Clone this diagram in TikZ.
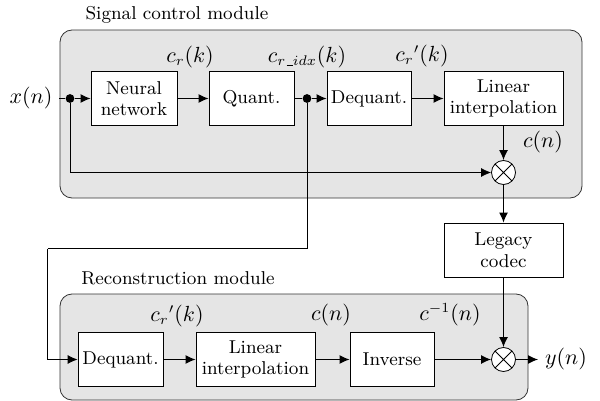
\documentclass[tikz,border=0pt]{standalone}
\usetikzlibrary{positioning}
\usetikzlibrary{arrows.meta}
\tikzset{x=0.5pt, y=-0.5pt,
font=\fontsize{9.3}{10.8}\selectfont,
module/.style={ % grey panel of a module
draw=black!80,
fill=gray!20,
rounded corners=6pt},
block/.style={ % a processing box
draw,
fill=white,
minimum height=27pt,
inner sep=1pt,
align=center},
mixer/.style={ % multiplier
circle,
draw,
fill=white,
minimum size=12pt,
inner sep=0pt,
path picture={\draw (path picture bounding box.north west) -- (path picture bounding box.south east)
(path picture bounding box.north east) -- (path picture bounding box.south west);}},
junction/.style={circle, fill, inner sep=0pt, minimum size=4.4pt},
lab/.style={font=\fontsize{10.6}{12}\selectfont},
tip/.style={-{Latex[length=5pt,width=4.5pt]}},
every edge/.style={draw, tip, semithick},
semithick}

\begin{document}
\begin{tikzpicture}
\useasboundingbox (0,0) rectangle (600,401);
% modules
\draw[module] (60,30) rectangle (582,198);
\draw[module] (60,294) rectangle (528,400);
\node (sigtitle) at (177,15) {Signal control module};
\node (rectitle) at (178,278) {Reconstruction module};

% signal control module
\node[lab] (xn) at (31,98.5) {$x(n)$};
\node[junction] (j1) at (70,98.5) {};
\node[block, minimum width=43pt] (nn) at (134,98.5) {Neural\\network};
\node[block, minimum width=42.5pt] (quant) at (251.5,98.5) {Quant.};
\node[junction] (j2) at (307,98.5) {};
\node[block, minimum width=42pt] (deq) at (369,98.5) {Dequant.};
\node[block, minimum width=59.5pt] (lin) at (503.5,98.5) {Linear\\interpolation};
\node[mixer] (mix1) at (503.5,172.5) {};
\node[block, minimum width=59.5pt] (legacy) at (503.5,250) {Legacy\\codec};

% reconstruction module
\node[block, minimum width=42.5pt] (deq2) at (120.5,359.5) {Dequant.};
\node[block, minimum width=59.5pt] (lin2) at (255.5,359.5) {Linear\\interpolation};
\node[block, minimum width=42pt] (inv) at (392,359.5) {Inverse};
\node[mixer] (mix2) at (503.5,359.5) {};
\node[lab] (yn) at (566,359.5) {$y(n)$};
\coordinate (c1) at (47.5,248.5);

% signal labels
\node[lab] at (190,57) {$c_r(k)$};
\node[lab] at (307,57) {$c_{r\mathunderscore idx}(k)$};
\node[lab] at (422,56) {$c_r{}'(k)$};
\node[lab] at (543,142) {$c(n)$};
\node[lab] at (177,316) {$c_r{}'(k)$};
\node[lab] at (331,315) {$c(n)$};
\node[lab] at (450,315) {$c^{-1}(n)$};

\draw (xn) -- (j1);
\draw (j1) edge (nn);
\draw (nn) edge (quant);
\draw (quant) -- (j2);
\draw (j2) edge (deq);
\draw (deq) edge (lin);
\draw (lin) edge (mix1);
\draw[tip] (j1) |- (mix1);
\draw (mix1) edge (legacy);
\draw (j2) |- (c1);
\draw[tip] (c1) |- (deq2);
\draw (deq2) edge (lin2);
\draw (lin2) edge (inv);
\draw (inv) edge (mix2);
\draw (legacy) edge (mix2);
\draw (mix2) edge (yn);
\end{tikzpicture}
\end{document}
